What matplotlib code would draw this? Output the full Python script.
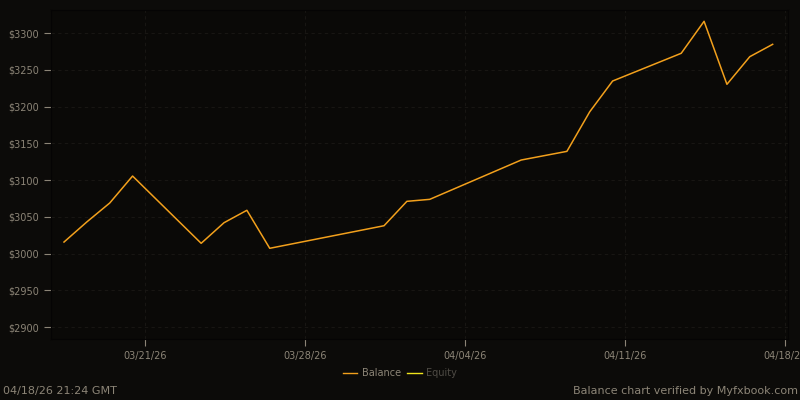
import numpy as np
import matplotlib.pyplot as plt
import matplotlib.dates as mdates
from matplotlib.lines import Line2D
import datetime as dt

# balance readings (one per trading day, weekends skipped)
dates = ['2026-03-17', '2026-03-18', '2026-03-19', '2026-03-20', '2026-03-23',
         '2026-03-24', '2026-03-25', '2026-03-26', '2026-03-31', '2026-04-01',
         '2026-04-02', '2026-04-06', '2026-04-08', '2026-04-09', '2026-04-10',
         '2026-04-13', '2026-04-14', '2026-04-15', '2026-04-16', '2026-04-17']
balance = [3015.6, 3043.0, 3068.7, 3105.4, 3013.9,
           3041.9, 3058.8, 3007.1, 3037.8, 3071.0,
           3073.7, 3127.2, 3139.0, 3192.9, 3234.7,
           3272.4, 3315.9, 3230.2, 3267.8, 3284.6]
yticks = [2900, 2950, 3000, 3050, 3100, 3150, 3200, 3250, 3300]
xticks = ['2026-03-21', '2026-03-28', '2026-04-04', '2026-04-11', '2026-04-18']

bg = '#0c0b09'
txt = '#8c8577'
grid = '#181613'
orange = '#f2a01c'

x = [dt.datetime.strptime(d, '%Y-%m-%d') + dt.timedelta(hours=11) for d in dates]
xt = [dt.datetime.strptime(d, '%Y-%m-%d') for d in xticks]

fig = plt.figure(figsize=(8, 4), dpi=100, facecolor=bg)
ax = fig.add_axes([0.06375, 0.1525, 0.92125, 0.8225], facecolor='#0a0907')

ax.plot(x, balance, color=orange, lw=1.1)

ax.set_xlim(xt[0] - dt.timedelta(days=4.11), xt[-1] + dt.timedelta(days=0.13))
ax.set_ylim(2883.7, 3331.3)
ax.set_yticks(yticks)
ax.set_yticklabels(['$%d' % v for v in yticks])
ax.set_xticks(xt)
ax.xaxis.set_major_formatter(mdates.DateFormatter('%m/%d/%y'))

ax.grid(True, color=grid, ls=(0, (3, 3)), lw=0.8)
ax.tick_params(colors=txt, labelsize=7, length=5, width=0.8)
for s in ax.spines.values():
    s.set_color('#050404')
    s.set_linewidth(0.8)

handles = [Line2D([], [], color=orange, lw=1), Line2D([], [], color='#f0e41c', lw=1)]
leg = fig.legend(handles, ['Balance', 'Equity'], loc='center', bbox_to_anchor=(0.5, 0.067),
                 ncol=2, frameon=False, fontsize=7, handlelength=1.5, handletextpad=0.5,
                 columnspacing=0.6)
leg.get_texts()[0].set_color(txt)
leg.get_texts()[1].set_color('#4f4b45')

fig.text(0.004, 0.022, '04/18/26 21:24 GMT', color=txt, fontsize=8, va='center', ha='left')
fig.text(0.997, 0.022, 'Balance chart verified by Myfxbook.com', color=txt, fontsize=8,
         va='center', ha='right')

fig.savefig('out.png', dpi=100, facecolor=bg)
